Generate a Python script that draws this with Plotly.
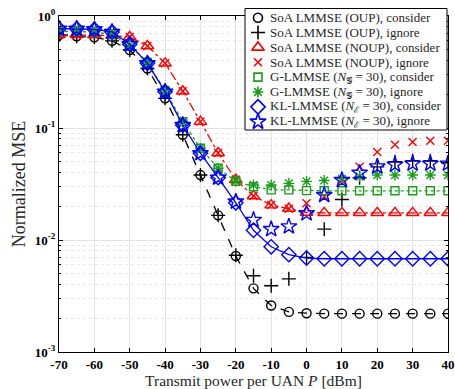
import plotly.graph_objects as go

# ---------------- data ----------------
p_dbm = [-70, -65, -60, -55, -50, -45, -40, -35, -30, -25, -20, -15, -10, -5,
         0, 5, 10, 15, 20, 25, 30, 35, 40]

oup_consider = [0.676, 0.66, 0.645, 0.60, 0.497, 0.34, 0.184, 0.087, 0.038, 0.0166,
                0.0072, 0.0037, 0.0026, 0.00228, 0.00222, 0.0022, 0.0022, 0.0022,
                0.0022, 0.0022, 0.0022, 0.0022, 0.0022]
oup_ignore = [0.676, 0.66, 0.645, 0.60, 0.497, 0.34, 0.184, 0.087, 0.038, 0.0166,
              0.0073, 0.0048, 0.0039, 0.0045, 0.0070, 0.0125, 0.023, 0.036,
              0.045, 0.050, 0.051, 0.051, 0.049]
noup_consider = [0.68, 0.68, 0.68, 0.67, 0.65, 0.54, 0.378, 0.213, 0.114, 0.0598,
                 0.0345, 0.0247, 0.0205, 0.0191, 0.0176, 0.0175, 0.0175, 0.0175,
                 0.0175, 0.0175, 0.0175, 0.0175, 0.0175]
noup_ignore = [0.68, 0.68, 0.68, 0.67, 0.65, 0.54, 0.378, 0.213, 0.114, 0.0598,
               0.0345, 0.0247, 0.0205, 0.019, 0.0213, 0.0245, 0.034, 0.045,
               0.061, 0.071, 0.075, 0.077, 0.077]
g_consider = [0.73, 0.73, 0.72, 0.68, 0.55, 0.385, 0.215, 0.114, 0.066, 0.0437,
              0.0335, 0.0299, 0.028, 0.028, 0.0276, 0.0275, 0.0275, 0.0275,
              0.0275, 0.0275, 0.0275, 0.0275, 0.0275]
g_ignore = [0.73, 0.73, 0.72, 0.68, 0.55, 0.385, 0.215, 0.114, 0.066, 0.0437,
            0.0335, 0.031, 0.031, 0.032, 0.0334, 0.034, 0.0353, 0.0368,
            0.038, 0.038, 0.038, 0.038, 0.038]
kl_consider = [0.77, 0.77, 0.76, 0.72, 0.56, 0.378, 0.211, 0.106, 0.0595, 0.036,
               0.0215, 0.0122, 0.0087, 0.0074, 0.0069, 0.0068, 0.0068, 0.0068,
               0.0068, 0.0068, 0.0068, 0.0068, 0.0068]
kl_ignore = [0.77, 0.77, 0.76, 0.72, 0.56, 0.378, 0.211, 0.106, 0.0595, 0.036,
             0.022, 0.0151, 0.0125, 0.0132, 0.0173, 0.0252, 0.0343, 0.0398,
             0.0453, 0.047, 0.048, 0.048, 0.048]

x_ticks = [-70, -60, -50, -40, -30, -20, -10, 0, 10, 20, 30, 40]
x_ticktext = ["-70", "-60", "-50", "-40", "-30", "-20", "-10", "0", "10", "20", "30", "40"]
y_ticks = [0.001, 0.01, 0.1, 1]
y_ticktext = ["10<sup>-3</sup>", "10<sup>-2</sup>", "10<sup>-1</sup>", "10<sup>0</sup>"]

names = [
    "SoA LMMSE (OUP), consider",
    "SoA LMMSE (OUP), ignore",
    "SoA LMMSE (NOUP), consider",
    "SoA LMMSE (NOUP), ignore",
    "G-LMMSE (<i>N</i><sub>\U0001D4A2</sub> = 30), consider",
    "G-LMMSE (<i>N</i><sub>\U0001D4A2</sub> = 30), ignore",
    "KL-LMMSE (<i>N</i><sub>\u2130</sub> = 30), consider",
    "KL-LMMSE (<i>N</i><sub>\u2130</sub> = 30), ignore",
]

BLACK, RED, GREEN, BLUE = "#000000", "#ff0000", "#1a9e1a", "#0000ff"

series = [
    (oup_consider, BLACK, "circle-open", 9, "dash"),
    (oup_ignore, BLACK, "cross-thin-open", 10, None),
    (noup_consider, RED, "triangle-up-open", 11, "dashdot"),
    (noup_ignore, RED, "x-thin-open", 8, None),
    (g_consider, GREEN, "square-open", 8, "dot"),
    (g_ignore, GREEN, "asterisk-open", 9, None),
    (kl_consider, BLUE, "diamond-open", 11, "solid"),
    (kl_ignore, BLUE, "star-open", 12, None),
]

FONT = "Liberation Serif"
W, H = 455, 389
ML, MR, MT, MB = 59, 7, 8, 37
PLOT_TOP = 16  # pixel row of the top of the data frame

fig = go.Figure()
for (vals, col, sym, size, dash), name in zip(series, names):
    if dash is not None:
        fig.add_trace(go.Scatter(x=p_dbm, y=vals, mode="lines", showlegend=False,
                                 line=dict(color=col, width=1.3, dash=dash),
                                 hoverinfo="skip"))
    fig.add_trace(go.Scatter(x=p_dbm, y=vals, mode="markers", name=name, showlegend=False,
                             marker=dict(symbol=sym, size=size, color=col,
                                         line=dict(color=col, width=1.4))))

# ---- legend box drawn in a pixel-unit overlay subplot (x2/y2) ----
LEG_L, LEG_R, LEG_T, LEG_B = 245, 447, 8.5, 130
ROW0, ROW_STEP = 17.7, 14.86
SYM_X, TXT_X = 258, 268

fig.add_trace(go.Scatter(x=[LEG_L, LEG_R, LEG_R, LEG_L, LEG_L],
                         y=[LEG_T, LEG_T, LEG_B, LEG_B, LEG_T],
                         xaxis="x2", yaxis="y2", mode="lines", fill="toself",
                         fillcolor="white", line=dict(color="#000000", width=1),
                         showlegend=False, hoverinfo="skip"))
for i, ((vals, col, sym, size, dash), name) in enumerate(zip(series, names)):
    ry = ROW0 + i * ROW_STEP
    fig.add_trace(go.Scatter(x=[SYM_X], y=[ry], xaxis="x2", yaxis="y2", mode="markers",
                             marker=dict(symbol=sym, size=size, color=col,
                                         line=dict(color=col, width=1.6)),
                             showlegend=False, hoverinfo="skip", cliponaxis=False))
    fig.add_annotation(x=TXT_X, y=ry, xref="x2", yref="y2", text=name, showarrow=False,
                       xanchor="left", yanchor="middle",
                       font=dict(family=FONT, size=13, color="#262626"))

minor_y = [k * 10 ** e for e in (-3, -2, -1) for k in range(2, 10)]
plot_h = H - MT - MB

fig.update_layout(
    width=W, height=H,
    margin=dict(l=ML, r=MR, t=MT, b=MB),
    paper_bgcolor="white", plot_bgcolor="rgba(0,0,0,0)",
    font=dict(family=FONT, color="#000000", size=12),
    showlegend=False,
    xaxis=dict(
        domain=[0, 1],
        range=[-70, 40], tickvals=x_ticks, ticktext=x_ticktext, automargin=False,
        tickfont=dict(family=FONT, size=13, weight="bold"),
        ticks="inside", ticklen=4, tickcolor="#000000",
        showline=True, linecolor="#000000", linewidth=1, mirror="allticks",
        showgrid=True, gridcolor="#e3e3e3", gridwidth=1, zeroline=False,
        title=dict(text="Transmit power per UAN <i>P</i> [dBm]",
                   font=dict(family=FONT, size=15.5, color="#262626"), standoff=1),
    ),
    yaxis=dict(
        domain=[0, (H - MB - PLOT_TOP) / plot_h],
        type="log", range=[-3, 0], tickvals=y_ticks, ticktext=y_ticktext,
        automargin=False,
        tickfont=dict(family=FONT, size=13, weight="bold"),
        ticks="inside", ticklen=4, tickcolor="#000000",
        showline=True, linecolor="#000000", linewidth=1, mirror="allticks",
        showgrid=True, gridcolor="#e3e3e3", gridwidth=1, zeroline=False,
        minor=dict(tickvals=minor_y, ticks="inside", ticklen=2, tickcolor="#000000",
                   showgrid=True, gridcolor="#e6e6e6", griddash="dot"),
        title=dict(text="Normalized MSE", font=dict(family=FONT, size=18, color="#262626"),
                   standoff=4),
    ),
    xaxis2=dict(domain=[0, 1], anchor="y2", range=[ML, W - MR], visible=False,
                fixedrange=True, automargin=False),
    yaxis2=dict(domain=[0, 1], anchor="x2", range=[H - MB, MT], visible=False,
                fixedrange=True, automargin=False),
)

fig.write_html("out.html", config={"displayModeBar": False},
               post_script="document.body.style.margin='0';document.body.style.padding='0';")
